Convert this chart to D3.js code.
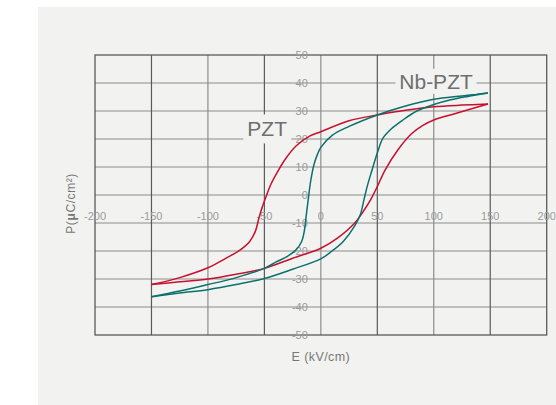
<!DOCTYPE html>
<html><head><meta charset="utf-8">
<script src="https://cdn.jsdelivr.net/npm/d3@7"></script>
<style>
html,body{margin:0;padding:0;background:#fff;}
svg{display:block;font-family:"Liberation Sans",Arial,Helvetica,sans-serif;}
</style></head>
<body>
<svg id="chart" width="556" height="405"></svg>
<script>
// ---- data ----
const xTicks = [-200,-150,-100,-50,0,50,100,150,200];
const yTicks = [-50,-40,-30,-20,-10,0,10,20,30,40,50];
const seriesNames = ["PZT","Nb-PZT"];
// PZT descending (upper) branch, [E, P]
const pztUpper = [[-150,-32],[-125,-29.5],[-100,-26],[-85,-22.8],[-72,-19.8],[-63,-16.6],[-58,-13],[-55,-8.5],[-52,-4.5],[-48,0],[-44,4],[-39,7.8],[-32,12.5],[-22,17.5],[-10,21],[0,22.6],[25,26.5],[50,28.6],[75,30.3],[100,31.5],[125,32.1],[148,32.5]];
// PZT ascending (lower) branch
const pztLower = [[-150,-32],[-125,-31],[-100,-30],[-75,-28.3],[-50,-26.2],[-25,-22.6],[0,-19],[15,-15.3],[30,-10],[39,-5],[45,-1],[50,3],[57,9],[68,16],[80,21.8],[90,24.8],[100,26.8],[120,29.2],[148,32.5]];
// Nb-PZT descending (upper) branch
const nbUpper = [[-150,-36.3],[-125,-34.3],[-100,-32],[-75,-29.5],[-50,-26.2],[-40,-24],[-30,-22],[-22,-19.6],[-17,-16.6],[-14.5,-12.5],[-13,-7.5],[-11,-1],[-9,5],[-6,11],[-3,14.5],[0,17],[10,21.3],[25,24.5],[50,28.6],[75,31.8],[100,34.2],[125,35.4],[148,36.4]];
// Nb-PZT ascending (lower) branch
const nbLower = [[-150,-36.3],[-125,-35],[-100,-33.8],[-75,-32],[-50,-29.8],[-25,-26.5],[0,-22.8],[10,-20],[20,-16.5],[30,-11],[35,-7],[38,-2],[41,3],[45,8.5],[50,15],[55,20.3],[62,23.5],[72,26.6],[85,30],[100,32.3],[115,34],[130,35.2],[148,36.4]];

// ---- layout ----
const svg = d3.select("#chart");
const W = 556, H = 405;
const m = {left:95, right:9.3, top:55, bottom:70};
const x = d3.scaleLinear().domain([-200,200]).range([m.left, W - m.right]);
const y = d3.scaleLinear().domain([-50,50]).range([H - m.bottom, m.top]);

svg.append("rect").attr("x",38).attr("y",7).attr("width",W-38).attr("height",H-7).attr("fill","#f2f3f1");

const darkX = new Set([-150,-50,50,150]);
const grid = svg.append("g");
grid.selectAll("line.h").data(yTicks.filter(d=>d>-50&&d<50)).join("line")
  .attr("x1",x(-200)).attr("x2",x(200)).attr("y1",d=>y(d)).attr("y2",d=>y(d))
  .attr("stroke","#8c8c8c").attr("stroke-width",1.2);
grid.selectAll("line.v").data(xTicks.filter(d=>d>-200&&d<200)).join("line")
  .attr("y1",y(-50)).attr("y2",y(50)).attr("x1",d=>x(d)).attr("x2",d=>x(d))
  .attr("stroke",d=>darkX.has(d)?"#5a5a5a":"#8c8c8c").attr("stroke-width",1.2);
svg.append("rect").attr("x",x(-200)).attr("y",y(50)).attr("width",x(200)-x(-200)).attr("height",y(-50)-y(50))
  .attr("fill","none").attr("stroke","#5a5a5a").attr("stroke-width",1.3);

// tick labels
svg.append("g").selectAll("text").data(xTicks).join("text")
  .attr("x",d=>x(d)).attr("y",y(-10)-3).attr("text-anchor","middle")
  .attr("font-size",11).attr("fill","#9a9a9a").text(d=>d);
svg.append("g").selectAll("text").data(yTicks).join("text")
  .attr("x",x(0)-13).attr("y",d=>y(d)).attr("dy","0.36em").attr("text-anchor","end")
  .attr("font-size",11).attr("fill","#9a9a9a").text(d=>d);

// axis titles
svg.append("text").attr("x",x(0)).attr("y",361).attr("text-anchor","middle")
  .attr("font-size",12.5).attr("fill","#777").attr("letter-spacing",0.4).text("E (kV/cm)");
const yt = svg.append("text").attr("transform",`translate(75,${y(-3)}) rotate(-90)`).attr("text-anchor","middle")
  .attr("font-size",12).attr("fill","#777").attr("letter-spacing",0.6);
yt.append("tspan").text("P(");
yt.append("tspan").attr("font-weight","bold").text("\u03bc");
yt.append("tspan").text("C/cm\u00b2)");

// curves
const line = d3.line().x(d=>x(d[0])).y(d=>y(d[1])).curve(d3.curveCatmullRom.alpha(0.5));
const curves = [
  {d:pztUpper,c:"#c8102e"},{d:pztLower,c:"#c8102e"},
  {d:nbUpper,c:"#0b706c"},{d:nbLower,c:"#0b706c"}
];
svg.append("g").selectAll("path").data(curves).join("path")
  .attr("d",d=>line(d.d)).attr("fill","none").attr("stroke",d=>d.c).attr("stroke-width",1.5);

// series labels with background boxes
const labels = [
  {t:seriesNames[0], e:-47.5, p:23.6, w:48, h:29},
  {t:seriesNames[1], e:102, p:40.6, w:81, h:25}
];
const lg = svg.append("g").selectAll("g").data(labels).join("g");
lg.append("rect").attr("x",d=>x(d.e)-d.w/2).attr("y",d=>y(d.p)-d.h/2).attr("width",d=>d.w).attr("height",d=>d.h).attr("fill","#f2f3f1");
lg.append("text").attr("x",d=>x(d.e)).attr("y",d=>y(d.p)).attr("dy","0.36em").attr("text-anchor","middle")
  .attr("font-size",21).attr("fill","#6e6e6e").text(d=>d.t);
</script>
</body></html>
